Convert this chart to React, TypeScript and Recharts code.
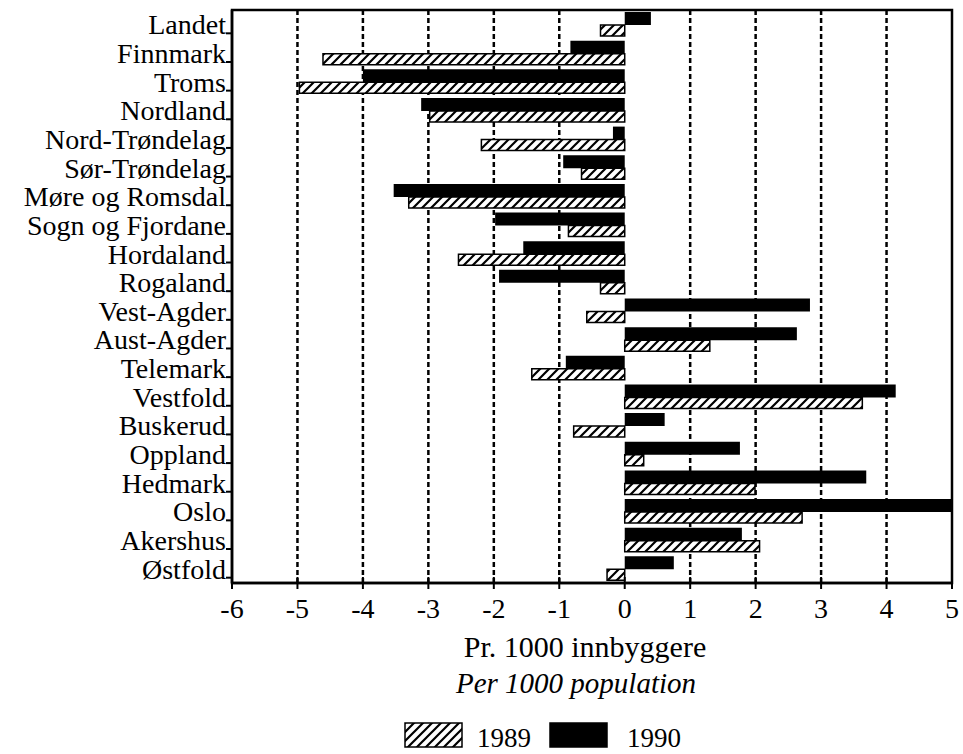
import { BarChart, Bar, XAxis, YAxis, ReferenceLine, ReferenceArea, Label } from 'recharts';

// Fylker, top to bottom as in the figure
const COUNTIES = [
  'Landet',
  'Finnmark',
  'Troms',
  'Nordland',
  'Nord-Trøndelag',
  'Sør-Trøndelag',
  'Møre og Romsdal',
  'Sogn og Fjordane',
  'Hordaland',
  'Rogaland',
  'Vest-Agder',
  'Aust-Agder',
  'Telemark',
  'Vestfold',
  'Buskerud',
  'Oppland',
  'Hedmark',
  'Oslo',
  'Akershus',
  'Østfold',
];

// per 1000 population
const VALUES_1990 = [
  0.4, -0.83, -4.0, -3.11, -0.18, -0.94, -3.53, -1.98, -1.55, -1.92,
  2.83, 2.63, -0.9, 4.14, 0.61, 1.76, 3.69, 5.0, 1.79, 0.75,
];
const VALUES_1989 = [
  -0.37, -4.61, -4.97, -2.98, -2.19, -0.66, -3.3, -0.86, -2.54, -0.37,
  -0.58, 1.3, -1.42, 3.63, -0.78, 0.29, 1.99, 2.71, 2.06, -0.27,
];

const X_TICKS = [-6, -5, -4, -3, -2, -1, 0, 1, 2, 3, 4, 5];
const GRID_X = [-5, -4, -3, -2, -1, 1, 2, 3, 4];
const LEGEND = ['1989', '1990'];

const FONT = '"Liberation Serif", "Times New Roman", Times, serif';

const data = COUNTIES.map((name, i) => ({
  name,
  y1990: VALUES_1990[i],
  y1989: VALUES_1989[i],
}));

const CountyTick = ({ x, y, payload }: any) => (
  <g>
    <line x1={x - 6} x2={x} y1={y + 9} y2={y + 9} stroke="#000" strokeWidth={2} />
    <text x={x - 6} y={y + 10} textAnchor="end" fontSize={28} fontFamily={FONT} fill="#000">
      {payload.value}
    </text>
  </g>
);

const ValueTick = ({ x, y, payload }: any) => (
  <g>
    <line x1={x} x2={x} y1={y - 6} y2={y + 6} stroke="#000" strokeWidth={2} />
    <text x={x} y={y + 35} textAnchor="middle" fontSize={28} fontFamily={FONT} fill="#000">
      {payload.value}
    </text>
  </g>
);

const AxisTitle = ({ viewBox }: any) => {
  const cx = viewBox.x + viewBox.width / 2;
  return (
    <g fontFamily={FONT} fill="#000">
      <text x={cx - 7} y={viewBox.y + 74} textAnchor="middle" fontSize={30}>
        Pr. 1000 innbyggere
      </text>
      <text x={cx - 16} y={viewBox.y + 110} textAnchor="middle" fontSize={29} fontStyle="italic">
        Per 1000 population
      </text>
    </g>
  );
};

const Hatch = ({ id }: { id: string }) => (
  <pattern id={id} patternUnits="userSpaceOnUse" width={9} height={9}>
    <rect width={9} height={9} fill="#fff" />
    <path d="M-2,2 L2,-2 M0,9 L9,0 M7,11 L11,7" stroke="#000" strokeWidth={2.2} />
  </pattern>
);

export default function App() {
  return (
    <div style={{ position: 'absolute', left: 0, top: 0, width: 963, height: 754, background: '#fff' }}>
      <BarChart
        layout="vertical"
        width={963}
        height={754}
        data={data}
        margin={{ top: 10, right: 11, bottom: 131, left: 0 }}
        barGap={0}
      >
        <defs>
          <Hatch id="hatch" />
        </defs>
        <XAxis
          type="number"
          domain={[-6, 5]}
          ticks={X_TICKS}
          allowDataOverflow
          height={40}
          tickSize={0}
          tickMargin={0}
          tickLine={false}
          tick={<ValueTick />}
          axisLine={{ stroke: '#000', strokeWidth: 2.5 }}
        >
          <Label content={<AxisTitle />} />
        </XAxis>
        <YAxis
          type="category"
          dataKey="name"
          width={232}
          interval={0}
          tickSize={0}
          tickMargin={0}
          tickLine={false}
          tick={<CountyTick />}
          axisLine={{ stroke: '#000', strokeWidth: 2.5 }}
        />
        {GRID_X.map((v) => (
          <ReferenceLine
            key={v}
            x={v}
            stroke="#000"
            strokeWidth={2.5}
            strokeDasharray="5 3"
            zIndex={-50}
          />
        ))}
        <ReferenceArea x1={-6} x2={5} fill="none" fillOpacity={0} stroke="#000" strokeWidth={2.5} />
        <Bar dataKey="y1990" fill="#000" barSize={13} isAnimationActive={false} />
        <Bar
          dataKey="y1989"
          fill="url(#hatch)"
          stroke="#000"
          strokeWidth={1.5}
          barSize={11}
          isAnimationActive={false}
        />
      </BarChart>
      <svg
        width={963}
        height={40}
        style={{ position: 'absolute', left: 0, top: 715 }}
        fontFamily={FONT}
      >
        <defs>
          <Hatch id="hatch-legend" />
        </defs>
        {LEGEND.map((label, i) => (
          <g key={label} transform={`translate(${405 + i * 145}, 8)`}>
            <rect
              width={57}
              height={24}
              fill={label === '1989' ? 'url(#hatch-legend)' : '#000'}
              stroke="#000"
              strokeWidth={1.5}
            />
            <text x={72 + i * 5} y={24} fontSize={27} fill="#000">
              {label}
            </text>
          </g>
        ))}
      </svg>
    </div>
  );
}
